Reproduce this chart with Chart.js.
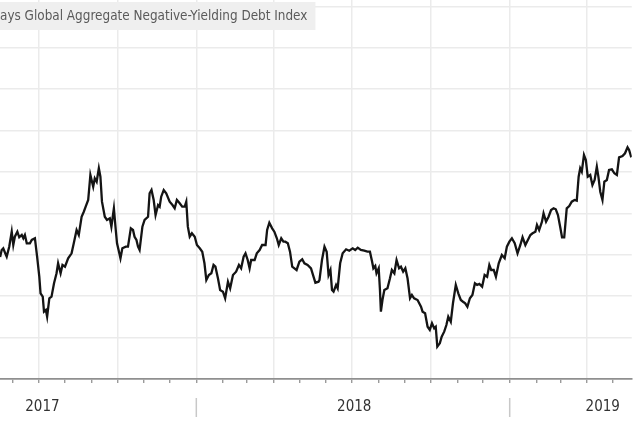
<!DOCTYPE html>
<html><head><meta charset="utf-8">
<script src="https://cdn.jsdelivr.net/npm/chart.js@4.4.1/dist/chart.umd.min.js"></script>
<style>html,body{margin:0;padding:0;background:#fff;overflow:hidden}#wrap{width:633px;height:421px;position:relative}</style>
</head><body><div id="wrap"><canvas id="c"></canvas></div>
<script>
const titleText = 'ays Global Aggregate Negative-Yielding Debt Index';

// dates as decimal years
const dates = [
2017.374,2017.379,2017.384,2017.390,2017.395,2017.403,2017.411,2017.416,2017.421,2017.429,
2017.435,2017.443,2017.448,2017.453,2017.459,2017.469,2017.475,2017.485,2017.492,2017.499,
2017.503,2017.510,2017.514,2017.520,2017.524,2017.531,2017.538,2017.546,2017.554,2017.559,
2017.567,2017.573,2017.581,2017.591,2017.602,2017.609,2017.618,2017.625,2017.634,2017.641,
2017.647,2017.655,2017.662,2017.671,2017.676,2017.682,2017.689,2017.694,2017.699,2017.708,
2017.715,2017.724,2017.729,2017.737,2017.743,2017.747,2017.752,2017.758,2017.764,2017.775,
2017.782,2017.791,2017.798,2017.803,2017.809,2017.814,2017.819,2017.828,2017.835,2017.846,
2017.851,2017.857,2017.864,2017.870,2017.878,2017.883,2017.888,2017.896,2017.904,2017.915,
2017.924,2017.931,2017.938,2017.947,2017.955,2017.963,2017.968,2017.973,2017.979,2017.986,
2017.995,2018.002,2018.011,2018.019,2018.026,2018.032,2018.040,2018.048,2018.055,2018.061,
2018.069,2018.076,2018.085,2018.092,2018.101,2018.108,2018.117,2018.127,2018.136,2018.143,
2018.151,2018.157,2018.164,2018.170,2018.175,2018.186,2018.193,2018.202,2018.210,2018.221,
2018.226,2018.233,2018.242,2018.249,2018.257,2018.263,2018.271,2018.278,2018.284,2018.292,
2018.299,2018.306,2018.313,2018.320,2018.329,2018.338,2018.345,2018.355,2018.366,2018.374,
2018.380,2018.390,2018.393,2018.401,2018.409,2018.416,2018.422,2018.428,2018.433,2018.438,
2018.446,2018.451,2018.459,2018.467,2018.478,2018.488,2018.499,2018.507,2018.515,2018.525,
2018.536,2018.546,2018.554,2018.561,2018.565,2018.571,2018.575,2018.582,2018.586,2018.589,
2018.594,2018.600,2018.610,2018.618,2018.624,2018.632,2018.639,2018.647,2018.653,2018.660,
2018.667,2018.674,2018.682,2018.688,2018.695,2018.706,2018.717,2018.722,2018.730,2018.738,
2018.745,2018.752,2018.759,2018.764,2018.769,2018.777,2018.783,2018.791,2018.798,2018.804,
2018.812,2018.819,2018.828,2018.836,2018.844,2018.851,2018.858,2018.865,2018.873,2018.881,
2018.889,2018.896,2018.903,2018.912,2018.920,2018.928,2018.935,2018.941,2018.949,2018.956,
2018.965,2018.975,2018.984,2018.991,2018.999,2019.007,2019.016,2019.025,2019.034,2019.041,
2019.050,2019.058,2019.066,2019.073,2019.082,2019.087,2019.094,2019.103,2019.108,2019.116,
2019.124,2019.132,2019.140,2019.147,2019.154,2019.161,2019.167,2019.174,2019.182,2019.190,
2019.198,2019.207,2019.214,2019.220,2019.225,2019.230,2019.237,2019.243,2019.249,2019.257,
2019.264,2019.271,2019.278,2019.283,2019.289,2019.296,2019.302,2019.310,2019.317,2019.326,
2019.334,2019.342,2019.349,2019.360,2019.368,2019.376,2019.381,2019.388
];

// index market value, USD trillions
const values = [
7.947,8.116,8.157,8.044,7.954,8.196,8.558,8.237,8.437,8.558,
8.423,8.478,8.399,8.478,8.278,8.278,8.358,8.399,7.954,7.471,
7.070,6.988,6.626,6.667,6.505,6.950,6.988,7.312,7.554,7.795,
7.554,7.754,7.713,7.916,8.036,8.278,8.599,8.478,8.920,9.041,
9.162,9.324,9.928,9.645,9.848,9.766,10.090,9.887,9.283,8.920,
8.841,8.882,8.679,9.123,8.599,8.278,8.116,7.916,8.157,8.196,
8.196,8.641,8.599,8.437,8.358,8.196,8.116,8.679,8.841,8.920,
9.486,9.565,9.324,8.961,9.203,9.162,9.404,9.565,9.486,9.283,
9.203,9.123,9.324,9.244,9.162,9.162,9.283,8.679,8.437,8.520,
8.437,8.237,8.157,8.075,7.795,7.391,7.512,7.553,7.754,7.713,
7.433,7.150,7.109,6.950,7.350,7.191,7.512,7.592,7.754,7.674,
7.954,8.036,7.874,7.674,7.874,7.874,8.036,8.116,8.237,8.237,
8.599,8.775,8.640,8.558,8.399,8.237,8.399,8.317,8.317,8.278,
8.075,7.713,7.674,7.633,7.833,7.891,7.795,7.754,7.674,7.471,
7.326,7.350,7.391,7.874,8.196,8.075,7.512,7.633,7.150,7.109,
7.271,7.191,7.795,8.036,8.133,8.099,8.157,8.116,8.172,8.116,
8.099,8.075,8.075,7.833,7.674,7.729,7.553,7.674,7.150,6.626,
6.908,7.150,7.191,7.432,7.633,7.553,7.874,7.674,7.713,7.592,
7.674,7.432,6.950,7.029,6.950,6.908,6.746,6.626,6.587,6.263,
6.184,6.346,6.225,6.263,5.780,5.862,6.022,6.143,6.304,6.505,
6.384,6.829,7.271,7.070,6.908,6.867,6.829,6.746,6.950,7.029,
7.312,7.271,7.295,7.230,7.512,7.471,7.754,7.633,7.633,7.471,
7.795,7.995,7.916,8.196,8.317,8.399,8.278,8.036,8.237,8.423,
8.237,8.358,8.478,8.519,8.558,8.720,8.599,8.800,9.002,8.800,
8.920,9.082,9.123,9.099,8.961,8.679,8.423,8.423,9.123,9.179,
9.283,9.324,9.307,9.887,10.090,10.008,10.411,10.290,9.887,9.928,
9.686,9.807,10.128,9.887,9.524,9.324,9.766,9.807,10.049,10.066,
9.969,9.928,10.355,10.387,10.452,10.597,10.532,10.355
];

const yGridValues = [6, 7, 8, 9, 10, 11, 12, 13, 14];
const yearLabels = ['2017', '2018', '2019'];
const yearLabelAt = [2017.509, 2018.504, 2019.297];
const yearBreaks = [2018, 2019];
const xMin = 2017.3736, xMax = 2019.3895;
const yMin = 5, yMax = 14.1546;
const firstMonth = [2017, 5], lastMonth = [2019, 4]; // Jun 2017 .. May 2019 (0-based months)

function decYear(y, m) {
  const s = Date.UTC(y, 0, 1), e = Date.UTC(y + 1, 0, 1);
  return y + (Date.UTC(y, m, 1) - s) / (e - s);
}
const monthTicks = [];
for (let y = firstMonth[0], m = firstMonth[1]; y < lastMonth[0] || (y === lastMonth[0] && m <= lastMonth[1]); ) {
  monthTicks.push({ value: decYear(y, m), q: m % 3 === 0 });
  m++; if (m > 11) { m = 0; y++; }
}

const overlay = {
  id: 'overlay',
  beforeDraw(chart) {
    const ctx = chart.ctx;
    ctx.save(); ctx.fillStyle = '#fff'; ctx.fillRect(0, 0, chart.width, chart.height); ctx.restore();
  },
  afterDraw(chart) {
    const ctx = chart.ctx, xs = chart.scales.x, b = chart.chartArea.bottom;
    ctx.save();
    ctx.strokeStyle = '#c8c8c8'; ctx.lineWidth = 1.5;
    yearBreaks.forEach(v => {
      const px = xs.getPixelForValue(v);
      ctx.beginPath(); ctx.moveTo(px, b + 19); ctx.lineTo(px, b + 38); ctx.stroke();
    });
    ctx.font = '13.4px "DejaVu Sans Condensed", "DejaVu Sans"';
    const w = ctx.measureText(titleText).width;
    ctx.fillStyle = '#efefef'; ctx.fillRect(0, 2, w + 8, 28);
    ctx.fillStyle = '#5a5a5a'; ctx.textBaseline = 'middle'; ctx.textAlign = 'left';
    ctx.fillText(titleText, 0, 16.5);
    ctx.restore();
  }
};

new Chart(document.getElementById('c'), {
  type: 'line',
  data: {
    datasets: [{
      data: dates.map((d, i) => ({ x: d, y: values[i] })),
      borderColor: '#141414', borderWidth: 2.3, pointRadius: 0, tension: 0, fill: false
    }]
  },
  options: {
    responsive: true, maintainAspectRatio: false, animation: false,
    layout: { padding: 0 },
    plugins: { legend: { display: false }, tooltip: { enabled: false }, title: { display: false } },
    scales: {
      x: {
        type: 'linear', position: 'bottom', min: xMin, max: xMax,
        afterBuildTicks: s => { s.ticks = monthTicks.map(t => ({ value: t.value, q: t.q })); },
        afterFit: s => { s.height = 6; },
        ticks: { display: false, autoSkip: false },
        grid: {
          color: c => (c.tick && c.tick.q) ? '#ebebeb' : 'rgba(0,0,0,0)',
          lineWidth: 1.5, drawTicks: true, tickLength: 4, tickColor: '#8a8a8a', tickWidth: 1.2
        },
        border: { display: true, color: '#8f8f8f', width: 1.8 }
      },
      x2: {
        type: 'linear', position: 'bottom', min: xMin, max: xMax,
        afterBuildTicks: s => { s.ticks = yearLabelAt.map(v => ({ value: v })); },
        afterFit: s => { s.height = 36; },
        ticks: {
          autoSkip: false, maxRotation: 0, padding: 13, color: '#333',
          font: { family: '"DejaVu Sans Condensed", "DejaVu Sans"', size: 15 },
          callback: (v, i) => yearLabels[i]
        },
        grid: { display: false, drawTicks: false },
        border: { display: false }
      },
      y: {
        type: 'linear', min: yMin, max: yMax,
        afterBuildTicks: s => { s.ticks = yGridValues.map(v => ({ value: v })); },
        afterFit: s => { s.width = 0; },
        ticks: { display: false },
        grid: { color: '#ebebeb', lineWidth: 1.5, drawTicks: false },
        border: { display: false }
      }
    }
  },
  plugins: [overlay]
});
</script>
</body></html>
